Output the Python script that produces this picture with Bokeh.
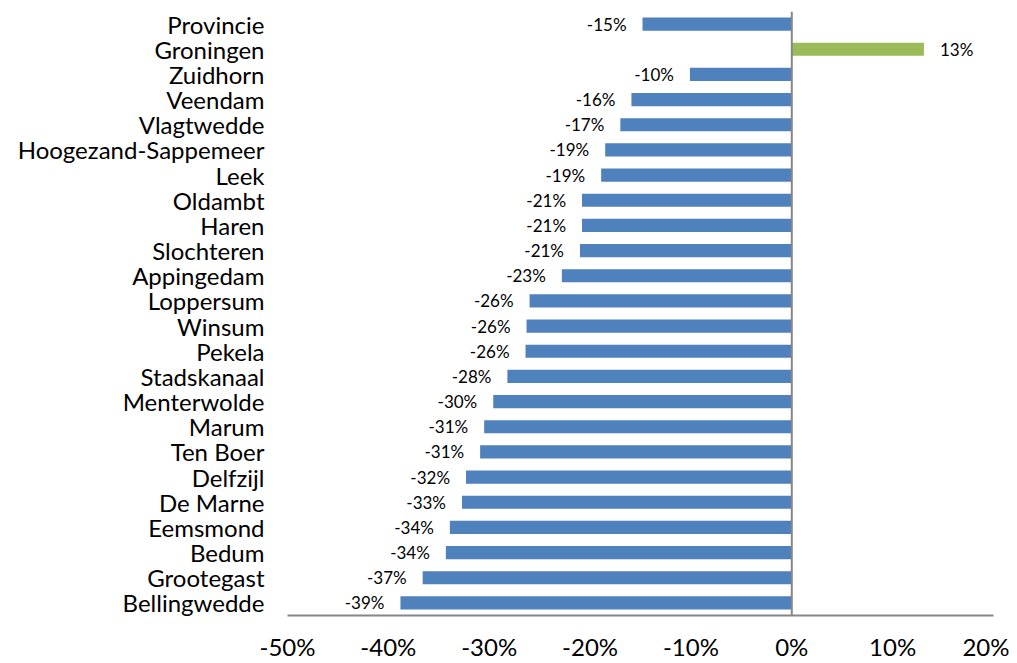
from bokeh.plotting import figure
from bokeh.models import ColumnDataSource, FactorRange, Span, FixedTicker, PrintfTickFormatter
from bokeh.core.properties import value
from bokeh.embed import file_html
from bokeh.resources import INLINE

categories = ["Provincie", "Groningen", "Zuidhorn", "Veendam", "Vlagtwedde",
              "Hoogezand-Sappemeer", "Leek", "Oldambt", "Haren", "Slochteren",
              "Appingedam", "Loppersum", "Winsum", "Pekela", "Stadskanaal",
              "Menterwolde", "Marum", "Ten Boer", "Delfzijl", "De Marne",
              "Eemsmond", "Bedum", "Grootegast", "Bellingwedde"]
values = [-14.8, 13.1, -10.1, -15.9, -17.0, -18.5, -18.9, -20.8, -20.8, -21.0,
          -22.8, -26.0, -26.3, -26.4, -28.2, -29.6, -30.5, -30.9, -32.3, -32.7,
          -33.9, -34.3, -36.6, -38.8]
labels = ["-15%", "13%", "-10%", "-16%", "-17%", "-19%", "-19%", "-21%", "-21%",
          "-21%", "-23%", "-26%", "-26%", "-26%", "-28%", "-30%", "-31%", "-31%",
          "-32%", "-33%", "-34%", "-34%", "-37%", "-39%"]
x_ticks = [-50, -40, -30, -20, -10, 0, 10, 20]

BLUE = "#4F81BD"
GREEN = "#9BBB59"
GREY = "#868686"
FONT = "Lato"

colors = [GREEN if v > 0 else BLUE for v in values]
src = ColumnDataSource(dict(cat=categories, val=values, col=colors, lab=labels))

neg = [i for i, v in enumerate(values) if v < 0]
pos = [i for i, v in enumerate(values) if v >= 0]
src_neg = ColumnDataSource(dict(cat=[categories[i] for i in neg],
                                val=[values[i] for i in neg],
                                lab=[labels[i] for i in neg]))
src_pos = ColumnDataSource(dict(cat=[categories[i] for i in pos],
                                val=[values[i] for i in pos],
                                lab=[labels[i] for i in pos]))

p = figure(width=1009, height=663, output_backend="svg", toolbar_location=None,
           y_range=FactorRange(factors=list(reversed(categories)), range_padding=0),
           x_range=(-50, 20),
           min_border_left=287, min_border_right=16, min_border_top=11,
           min_border_bottom=46)

p.hbar(y="cat", right="val", left=0, height=0.52, color="col", line_color=None,
       source=src)

p.add_layout(Span(location=0, dimension="height", line_color=GREY, line_width=2))

p.text(x="val", y="cat", text="lab", source=src_neg, text_align="right",
       text_baseline="middle", x_offset=-16, text_font=value(FONT),
       text_font_size="17px", text_color="black")
p.text(x="val", y="cat", text="lab", source=src_pos, text_align="left",
       text_baseline="middle", x_offset=16, text_font=value(FONT),
       text_font_size="17px", text_color="black")

p.xgrid.visible = False
p.ygrid.visible = False
p.outline_line_color = None

p.xaxis.ticker = FixedTicker(ticks=x_ticks)
p.xaxis.formatter = PrintfTickFormatter(format="%d%%")
p.xaxis.axis_line_color = GREY
p.xaxis.axis_line_width = 2
p.xaxis.major_tick_line_color = None
p.xaxis.minor_tick_line_color = None
p.xaxis.major_label_text_font = FONT
p.xaxis.major_label_text_font_size = "24px"
p.xaxis.major_label_text_color = "black"
p.xaxis.major_label_standoff = 10

p.yaxis.axis_line_color = None
p.yaxis.major_tick_line_color = None
p.yaxis.minor_tick_line_color = None
p.yaxis.major_label_text_font = FONT
p.yaxis.major_label_text_font_size = "24px"
p.yaxis.major_label_text_color = "black"
p.yaxis.major_label_standoff = 17

open("out.html", "w").write(file_html(p, INLINE))
